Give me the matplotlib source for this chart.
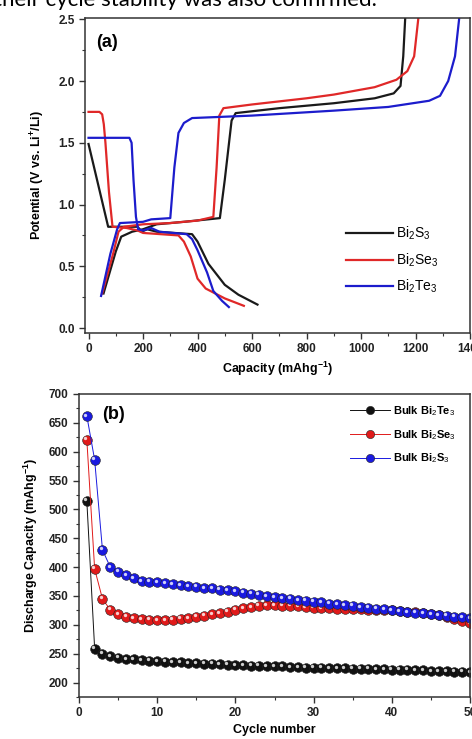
import matplotlib.pyplot as plt
import matplotlib.transforms as mtransforms
from matplotlib.ticker import MultipleLocator

plt.rcParams['font.family'] = ['Liberation Sans', 'DejaVu Sans']
plt.rcParams['mathtext.fontset'] = 'custom'
plt.rcParams['mathtext.rm'] = 'Liberation Sans'
plt.rcParams['mathtext.bf'] = 'Liberation Sans:bold'

# ---- panel (a): galvanostatic profiles ----
s_dis_x = [0, 72, 180, 195, 215, 250, 380, 400, 440, 500, 550, 620]
s_dis_y = [1.49, 0.82, 0.82, 0.78, 0.80, 0.78, 0.76, 0.70, 0.52, 0.35, 0.27, 0.19]
s_ch_x = [55, 100, 120, 160, 200, 250, 350, 482, 500, 525, 540, 700, 900, 1050, 1120, 1145, 1155, 1162, 1164]
s_ch_y = [0.28, 0.62, 0.74, 0.78, 0.80, 0.84, 0.86, 0.89, 1.2, 1.68, 1.74, 1.78, 1.82, 1.86, 1.90, 1.96, 2.2, 2.5, 2.6]

se_dis_x = [0, 40, 50, 56, 62, 75, 88, 140, 180, 200, 330, 350, 375, 400, 430, 500, 570]
se_dis_y = [1.75, 1.75, 1.73, 1.65, 1.50, 1.10, 0.82, 0.81, 0.79, 0.77, 0.75, 0.70, 0.58, 0.40, 0.32, 0.24, 0.18]
se_ch_x = [50, 90, 110, 130, 200, 300, 400, 458, 470, 480, 495, 600, 800, 900, 1050, 1130, 1170, 1195, 1210, 1212]
se_ch_y = [0.28, 0.60, 0.78, 0.82, 0.84, 0.85, 0.87, 0.90, 1.3, 1.72, 1.78, 1.81, 1.86, 1.89, 1.95, 2.01, 2.08, 2.2, 2.5, 2.6]

te_dis_x = [0, 150, 158, 165, 174, 182, 200, 230, 260, 360, 380, 400, 435, 458, 490, 515]
te_dis_y = [1.54, 1.54, 1.50, 1.20, 0.90, 0.80, 0.79, 0.81, 0.78, 0.76, 0.72, 0.63, 0.45, 0.30, 0.22, 0.17]
te_ch_x = [46, 80, 105, 115, 200, 230, 300, 315, 330, 350, 380, 600, 900, 1100, 1250, 1290, 1320, 1345, 1360, 1362]
te_ch_y = [0.26, 0.60, 0.80, 0.85, 0.86, 0.88, 0.89, 1.3, 1.58, 1.66, 1.70, 1.72, 1.76, 1.79, 1.84, 1.88, 2.0, 2.2, 2.5, 2.6]

# ---- panel (b): cycling ----
cycles = list(range(1, 51))
te_cap = [515, 259, 250, 246, 243, 241, 240, 239, 238, 237,
          236, 235, 235, 234, 234, 233, 233, 232, 231, 230,
          230, 229, 229, 228, 228, 228, 227, 227, 226, 226,
          226, 225, 225, 225, 224, 224, 224, 223, 223, 222,
          222, 222, 221, 221, 220, 220, 220, 219, 219, 218]
se_cap = [621, 397, 345, 326, 318, 314, 312, 310, 309, 308,
          308, 309, 311, 312, 314, 316, 318, 320, 323, 326,
          329, 331, 333, 334, 334, 333, 333, 332, 331, 330,
          329, 329, 328, 328, 327, 327, 326, 326, 325, 325,
          324, 323, 322, 321, 319, 317, 314, 311, 307, 303]
s_cap = [662, 586, 430, 400, 392, 386, 381, 376, 375, 374,
         372, 370, 369, 367, 366, 364, 363, 361, 360, 358,
         356, 354, 352, 350, 348, 346, 345, 343, 342, 340,
         339, 337, 336, 334, 333, 331, 330, 328, 327, 325,
         324, 322, 321, 320, 318, 317, 316, 314, 313, 312]

fig = plt.figure(figsize=(4.72, 7.39), dpi=100)

fig.text(-0.012, 1 - 6 / 739, "their cycle stability was also confirmed.",
         fontsize=16, family=['Lato', 'DejaVu Sans'], va='baseline')

ax1 = fig.add_axes([85 / 472, 1 - 333 / 739, 385 / 472, 315 / 739])
ax1.plot(s_dis_x, s_dis_y, color='#1a1a1a', lw=1.6)
ax1.plot(s_ch_x, s_ch_y, color='#1a1a1a', lw=1.6, label='Bi$_2$S$_3$')
ax1.plot(se_dis_x, se_dis_y, color='#e02828', lw=1.6)
ax1.plot(se_ch_x, se_ch_y, color='#e02828', lw=1.6, label='Bi$_2$Se$_3$')
ax1.plot(te_dis_x, te_dis_y, color='#1c1ccc', lw=1.6)
ax1.plot(te_ch_x, te_ch_y, color='#1c1ccc', lw=1.6, label='Bi$_2$Te$_3$')
ax1.set_xlim(-13, 1400)
ax1.set_ylim(-0.04, 2.51)
ax1.xaxis.set_major_locator(MultipleLocator(200))
ax1.xaxis.set_minor_locator(MultipleLocator(100))
ax1.yaxis.set_major_locator(MultipleLocator(0.5))
ax1.yaxis.set_minor_locator(MultipleLocator(0.25))
ax1.set_xlabel("Capacity (mAhg$^{\\mathbf{-1}}$)", fontsize=9, fontweight='bold', labelpad=3)
ax1.set_ylabel("Potential (V vs. Li$^{\\mathbf{+}}$/Li)", fontsize=9, fontweight='bold', labelpad=8)
ax1.text(0.03, 0.95, "(a)", transform=ax1.transAxes, fontsize=13, fontweight='bold', va='top')
ax1.legend(loc='lower right', bbox_to_anchor=(0.95, 0.08), frameon=False, fontsize=10,
           handlelength=3.4, labelspacing=0.65, handletextpad=0.2)

ax2 = fig.add_axes([79 / 472, 1 - 697 / 739, 391 / 472, 303 / 739])
series = [(te_cap, '#111111', 'Bulk Bi$_2$Te$_3$'),
          (se_cap, '#e01a1a', 'Bulk Bi$_2$Se$_3$'),
          (s_cap, '#1a1ae0', 'Bulk Bi$_2$S$_3$')]
shine = mtransforms.offset_copy(ax2.transData, fig=fig, x=-1.0, y=1.0, units='points')
for vals, col, lab in series:
    ax2.plot(cycles, vals, color=col, lw=0.7, marker='o', ms=7,
             mfc=col, mec='#222222', mew=0.4, label=lab)
    ax2.plot(cycles, vals, ls='none', marker='o', ms=2.4, mfc='white', mec='none',
             alpha=0.8, transform=shine)
ax2.set_xlim(0, 50)
ax2.set_ylim(175, 700)
ax2.xaxis.set_major_locator(MultipleLocator(10))
ax2.xaxis.set_minor_locator(MultipleLocator(5))
ax2.yaxis.set_major_locator(MultipleLocator(50))
ax2.yaxis.set_minor_locator(MultipleLocator(25))
ax2.set_xlabel("Cycle number", fontsize=9, fontweight='bold', labelpad=3)
ax2.set_ylabel("Discharge Capacity (mAhg$^{\\mathbf{-1}}$)", fontsize=9, fontweight='bold', labelpad=6)
ax2.text(0.06, 0.96, "(b)", transform=ax2.transAxes, fontsize=13, fontweight='bold', va='top')
leg = ax2.legend(loc='upper right', bbox_to_anchor=(0.99, 1.0), frameon=False, fontsize=8,
                 handlelength=3.6, labelspacing=0.9, handletextpad=0.3, markerscale=0.85)
for t in leg.get_texts():
    t.set_fontweight('bold')

for ax in (ax1, ax2):
    for sp in ax.spines.values():
        sp.set_linewidth(1.1)
        sp.set_color('#333333')
    ax.tick_params(which='both', direction='out', top=False, right=False, colors='#333333')
    ax.tick_params(which='major', length=4, width=1, labelsize=8.5)
    ax.tick_params(which='minor', length=2.5, width=0.8)
    for lbl in ax.get_xticklabels() + ax.get_yticklabels():
        lbl.set_fontweight('bold')
        lbl.set_color('#222222')

fig.savefig("out.png", dpi=100)
